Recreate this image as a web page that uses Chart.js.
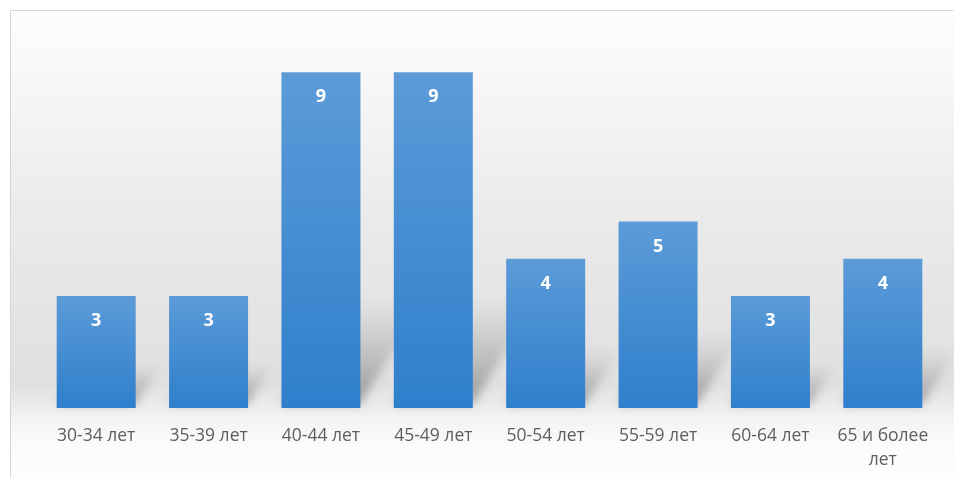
<!DOCTYPE html>
<html>
<head>
<meta charset="utf-8">
<script src="https://cdn.jsdelivr.net/npm/chart.js@4.4.1/dist/chart.umd.min.js"></script>
<style>
  html, body { margin: 0; padding: 0; background: #ffffff; }
  #frame {
    position: absolute;
    left: 10px;
    top: 10px;
    width: 944px;
    height: 468px;
    border-left: 1px solid #d6d6d6;
    border-top: 1px solid #d6d6d6;
  }
  #chart { display: block; }
</style>
</head>
<body>
<div id="frame"><canvas id="chart" width="943" height="467"></canvas></div>
<script>
const categories = ["30-34 лет", "35-39 лет", "40-44 лет", "45-49 лет", "50-54 лет", "55-59 лет", "60-64 лет", ["65 и более", "лет"]];
const counts = [3, 3, 9, 9, 4, 5, 3, 4];

// soft grey wall behind the bars
const backdrop = {
  id: "backdrop",
  beforeDraw(chart) {
    const { ctx, width, height } = chart;
    const g = ctx.createLinearGradient(0, 0, 0, height);
    g.addColorStop(0, "#fdfdfd");
    g.addColorStop(0.15, "#f7f7f7");
    g.addColorStop(0.45, "#eaeaea");
    g.addColorStop(0.8, "#e0e0e0");
    g.addColorStop(0.87, "#f3f3f3");
    g.addColorStop(0.93, "#fbfbfb");
    g.addColorStop(1, "#fdfdfd");
    ctx.save();
    ctx.fillStyle = g;
    ctx.fillRect(0, 0, width, height);
    ctx.restore();
  },
  beforeDatasetsDraw(chart) {
    // slanted shadows cast by each bar onto the wall
    const { ctx } = chart;
    const meta = chart.getDatasetMeta(0);
    ctx.save();
    ctx.filter = "blur(5px)";
    meta.data.forEach((bar) => {
      const left = bar.x - bar.width / 2;
      const right = bar.x + bar.width / 2;
      const h = Math.min((bar.base - bar.y) * 0.4, 110);
      const dx = h * 0.6;
      const g = ctx.createLinearGradient(0, bar.base, 0, bar.base - h);
      g.addColorStop(0, "rgba(100,100,100,0.6)");
      g.addColorStop(1, "rgba(140,140,140,0)");
      ctx.fillStyle = g;
      ctx.beginPath();
      ctx.moveTo(left, bar.base - 4);
      ctx.lineTo(right, bar.base - 4);
      ctx.lineTo(right + dx, bar.base - h);
      ctx.lineTo(left + dx, bar.base - h);
      ctx.closePath();
      ctx.fill();
    });
    ctx.restore();
  },
};

const valueLabels = {
  id: "valueLabels",
  afterDatasetsDraw(chart) {
    const { ctx } = chart;
    const meta = chart.getDatasetMeta(0);
    ctx.save();
    ctx.fillStyle = "#ffffff";
    ctx.font = "bold 18px 'Open Sans', sans-serif";
    ctx.textAlign = "center";
    ctx.textBaseline = "middle";
    meta.data.forEach((bar, i) => {
      ctx.fillText(String(counts[i]), bar.x, bar.y + 25);
    });
    ctx.restore();
  },
};

function barFill(ctx) {
  const chart = ctx.chart;
  const y = chart.scales.y;
  if (!y || !chart.chartArea) return "#4a8fd4";
  const top = y.getPixelForValue(ctx.raw);
  const base = y.getPixelForValue(0);
  const g = chart.ctx.createLinearGradient(0, top, 0, base);
  g.addColorStop(0, "#5c9bd8");
  g.addColorStop(1, "#2f7fcc");
  return g;
}

new Chart(document.getElementById("chart"), {
  type: "bar",
  data: {
    labels: categories,
    datasets: [
      {
        data: counts,
        backgroundColor: barFill,
        borderWidth: 0,
        categoryPercentage: 1,
        barPercentage: 0.703,
      },
    ],
  },
  options: {
    responsive: false,
    animation: false,
    layout: { padding: { left: 29, right: 15, top: 24, bottom: 0 } },
    plugins: {
      legend: { display: false },
      tooltip: { enabled: false },
    },
    scales: {
      x: {
        grid: { display: false, drawTicks: false },
        border: { display: false },
        ticks: {
          color: "#5e5e5e",
          padding: 16,
          maxRotation: 0,
          autoSkip: false,
          font: { family: "'Open Sans', sans-serif", size: 17.5, lineHeight: 1.37 },
        },
        afterFit(s) { s.height = 70; },
      },
      y: {
        display: false,
        min: 0,
        max: 10,
      },
    },
  },
  plugins: [backdrop, valueLabels],
});
</script>
</body>
</html>
